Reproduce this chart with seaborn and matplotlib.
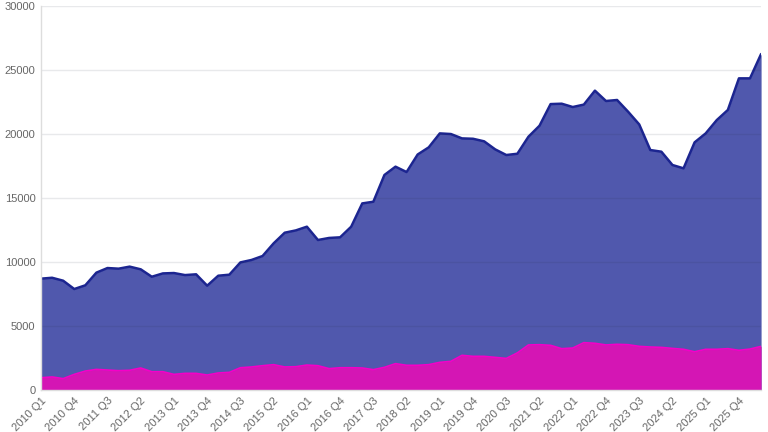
import pandas as pd
import seaborn as sns
import matplotlib.pyplot as plt

quarters = [f"{y} Q{q}" for y in range(2010, 2027) for q in range(1, 5)][:66]

total = [8700, 8770, 8540, 7890, 8180, 9170, 9530, 9480, 9640, 9430,
         8850, 9110, 9140, 8980, 9040, 8150, 8930, 9010, 9970, 10160,
         10470, 11460, 12290, 12470, 12760, 11720, 11880, 11930, 12760, 14580,
         14710, 16800, 17450, 17030, 18400, 18960, 20050, 20000, 19660, 19630,
         19430, 18800, 18360, 18460, 19790, 20650, 22340, 22370, 22110, 22300,
         23390, 22580, 22660, 21740, 20750, 18750, 18620, 17580, 17320, 19350,
         20050, 21090, 21880, 24350, 24350, 26250]

part = [960, 1020, 890, 1220, 1480, 1610, 1560, 1510, 1540, 1720,
        1430, 1430, 1220, 1300, 1300, 1170, 1330, 1380, 1740, 1800,
        1900, 1980, 1800, 1820, 1950, 1900, 1670, 1740, 1740, 1720,
        1590, 1770, 2060, 1930, 1930, 1980, 2160, 2240, 2710, 2630,
        2630, 2550, 2470, 2900, 3520, 3540, 3490, 3230, 3280, 3700,
        3650, 3520, 3570, 3540, 3410, 3360, 3330, 3250, 3180, 2990,
        3180, 3180, 3230, 3100, 3200, 3410]

df = pd.DataFrame({"quarter": quarters, "total": total, "part": part})
df["pos"] = range(len(df))

sns.set_theme(style="white")
plt.rcParams['font.family'] = ['Liberation Sans', 'DejaVu Sans']

fig = plt.figure(figsize=(7.68, 4.32), dpi=100)
ax = fig.add_axes([0.0534, 0.0972, 0.9376, 0.8888])

ax.fill_between(df["pos"], df["total"], color="#5058ad", lw=0, zorder=1)
sns.lineplot(data=df, x="pos", y="total", color="#1c2590", lw=1.8, ax=ax, zorder=2)
ax.fill_between(df["pos"], df["part"], color="#d416b4", lw=0, zorder=3)
sns.lineplot(data=df, x="pos", y="part", color="#f500c8", lw=1.2, ax=ax, zorder=4)

ax.set_xlim(0, len(df) - 1)
ax.set_ylim(0, 30000)
ax.set_yticks(range(0, 30001, 5000))
ax.set_xticks(df["pos"][::3])
ax.set_xticklabels(df["quarter"][::3], rotation=45, ha="right", rotation_mode="anchor")
ax.tick_params(axis="both", labelsize=8, colors="#666666", length=0, pad=4)
ax.set_xlabel("")
ax.set_ylabel("")

ax.set_axisbelow(False)
ax.grid(axis="y", color="#1f2d3d", alpha=0.1, lw=1, zorder=5)
for s in ["top", "right"]:
    ax.spines[s].set_visible(False)
for s in ["left", "bottom"]:
    ax.spines[s].set_color("#dddddd")
    ax.spines[s].set_linewidth(1)
    ax.spines[s].set_zorder(6)

fig.savefig("out.png", dpi=100)
